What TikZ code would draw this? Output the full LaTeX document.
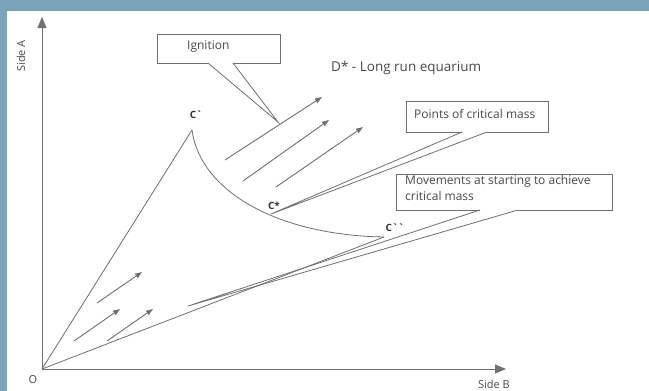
\documentclass[tikz,border=0pt]{standalone}
\usepackage{fontspec}
\setmainfont{Open Sans}
\usetikzlibrary{arrows.meta}
\definecolor{bg}{HTML}{7BA3BA}
\definecolor{ln}{HTML}{707070}
\definecolor{tx}{HTML}{4A4A4A}
\begin{document}
\begin{tikzpicture}[x=1pt,y=-1pt,
  ax/.style={draw=ln, line width=1pt, -{Triangle[length=11pt,width=9pt]}},
  mv/.style={draw=ln, line width=0.9pt, -{Triangle[length=7pt,width=5pt]}},
  thin line/.style={draw=ln, line width=0.8pt},
  lbl/.style={text=tx, inner sep=0pt, anchor=west, font=\fontsize{12}{16.5}\selectfont},
  clab/.style={text=black!80, inner sep=0pt, font=\bfseries\fontsize{10}{11}\selectfont}]
\useasboundingbox (0,0) rectangle (649,391);
\fill[bg] (0,0) rectangle (649,391);
\fill[white] (7,11) rectangle (649,391);

% key points
\coordinate (O) at (42,369);
\coordinate (Atip) at (42,17);
\coordinate (Btip) at (506,369);
\coordinate (C1) at (192,130);
\coordinate (Cs) at (271,214);
\coordinate (C2) at (384,237);

% axes
\draw[ax] (O) -- (Atip);
\draw[ax] (O) -- (Btip);
\node[text=tx, font=\fontsize{11}{13}\selectfont, rotate=90] (sideA) at (21,56) {Side A};
\node[text=tx, font=\fontsize{11}{13}\selectfont, inner sep=0pt, anchor=base] (sideB) at (494,388) {Side B};
\node[text=tx, font=\fontsize{11}{13}\selectfont] (Olab) at (33,380) {O};

% rays and curve
\draw[thin line] (O) -- (C1);
\draw[thin line] (O) -- (C2);
\draw[thin line] (C1) .. controls (200,190) and (275,235) .. (C2);

% point labels
\node[clab] (C1lab) at (196,115) {C\textasciigrave};
\node[clab] (Cslab) at (274,206) {C*};
\node[clab] (C2lab) at (395,228) {C\textasciigrave\textasciigrave};

% upper arrows
\coordinate (u1s) at (225,160); \coordinate (u1e) at (322,97);
\coordinate (u2s) at (243,181); \coordinate (u2e) at (329,120);
\coordinate (u3s) at (276,187); \coordinate (u3e) at (363,127);
\draw[mv] (u1s) -- (u1e);
\draw[mv] (u2s) -- (u2e);
\draw[mv] (u3s) -- (u3e);

% lower arrows
\coordinate (l1s) at (97,303); \coordinate (l1e) at (142,272);
\coordinate (l2s) at (74,341); \coordinate (l2e) at (120,309);
\coordinate (l3s) at (107,341); \coordinate (l3e) at (153,309);
\draw[mv] (l1s) -- (l1e);
\draw[mv] (l2s) -- (l2e);
\draw[mv] (l3s) -- (l3e);

% Ignition callout
\coordinate (igtip) at (278,122);
\draw[thin line] (208,63) -- (157,63) -- (157,34) -- (280,34) -- (280,63) -- (233,63);
\draw[thin line] (208,63) -- (igtip) -- (233,63);
\node[lbl] (ign) at (187,47) {Ignition};

% D* label
\node[lbl, font=\fontsize{13.5}{16}\selectfont] (Dstar) at (331,68) {D* - Long run equarium};

% Points of critical mass callout
\draw[thin line] (462,132) -- (406,132) -- (406,101) -- (548,101) -- (548,132) -- (487,132);
\draw[thin line] (462,132) -- (Cs) -- (487,132);
\node[lbl] (pcm) at (414,114) {Points of critical mass};

% Movements callout
\coordinate (mvtip) at (188,306);
\draw[thin line] (480,210) -- (396,210) -- (396,174) -- (612,174) -- (612,210) -- (518,210);
\draw[thin line] (480,210) -- (mvtip) -- (518,210);
\node[lbl, align=left, anchor=north west] (mov) at (405,175) {Movements at starting to achieve\\critical mass};
\end{tikzpicture}
\end{document}
